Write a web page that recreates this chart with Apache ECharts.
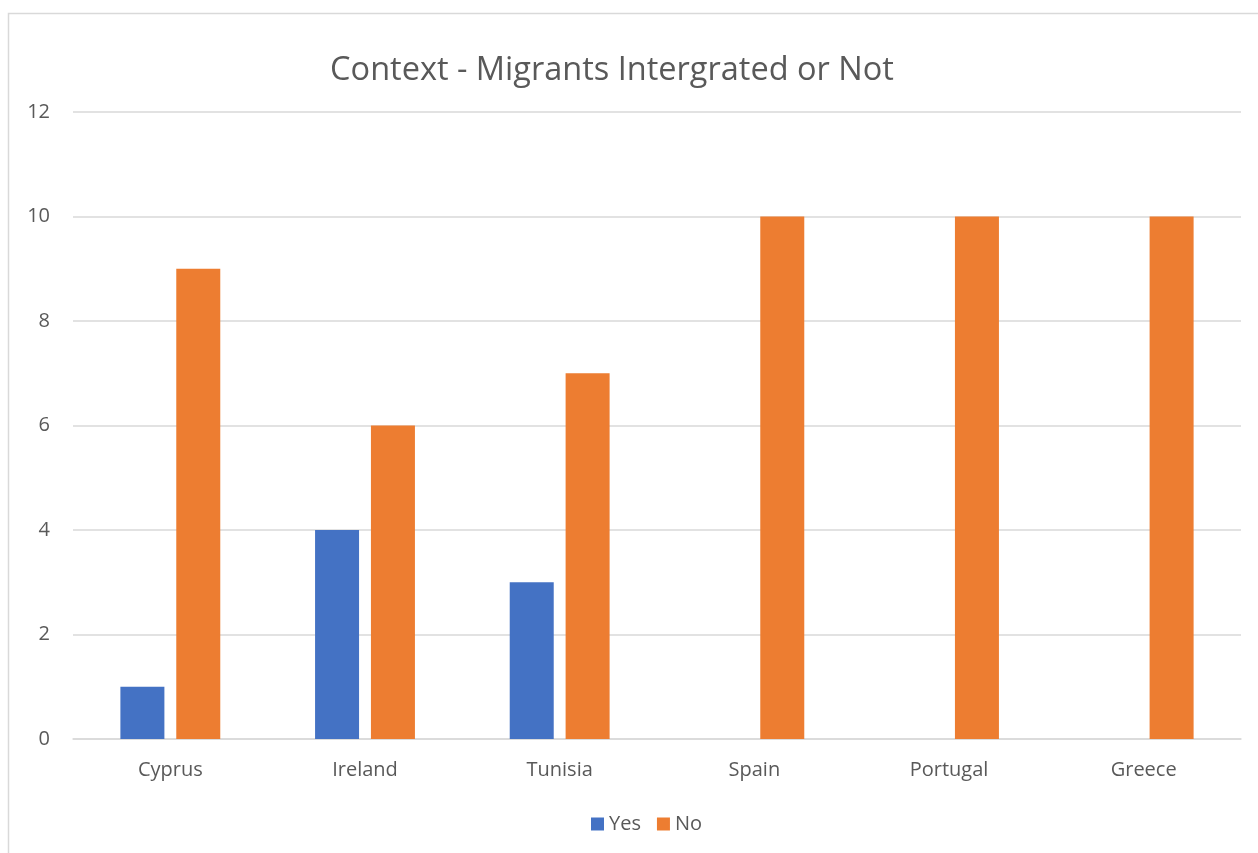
<!DOCTYPE html>
<html>
<head>
<meta charset="utf-8">
<script src="https://cdn.jsdelivr.net/npm/echarts@6/dist/echarts.min.js"></script>
<style>
  html, body { margin: 0; padding: 0; background: #fff; }
  #chart { width: 1258px; height: 853px; }
</style>
</head>
<body>
<div id="chart"></div>
<script>
const countries = ['Cyprus', 'Ireland', 'Tunisia', 'Spain', 'Portugal', 'Greece']
const yesValues = [1, 4, 3, 0, 0, 0]
const noValues = [9, 6, 7, 10, 10, 10]

const textColor = '#595959'
const font = 'Open Sans'

const chart = echarts.init(document.getElementById('chart'))
chart.setOption({
  animation: false,
  textStyle: { fontFamily: font },
  graphic: [
    {
      type: 'rect',
      shape: { x: 8.5, y: 13.5, width: 1400, height: 1000 },
      style: { fill: 'none', stroke: '#d9d9d9', lineWidth: 1.5 },
      silent: true,
    },
  ],
  title: {
    text: 'Context - Migrants Intergrated or Not',
    left: 607,
    textAlign: 'center',
    top: 49,
    textStyle: { color: textColor, fontSize: 32.5, fontWeight: 'normal', fontFamily: font },
  },
  legend: {
    bottom: 14,
    left: 586,
    itemWidth: 13,
    itemHeight: 13,
    itemGap: 16,
    icon: 'rect',
    textStyle: { color: textColor, fontSize: 20, fontFamily: font },
    data: ['Yes', 'No'],
  },
  grid: { left: 73, right: 17, top: 112, bottom: 114 },
  xAxis: {
    type: 'category',
    data: countries,
    axisLine: { lineStyle: { color: '#d9d9d9', width: 1.5 } },
    axisTick: { show: false },
    axisLabel: { color: textColor, fontSize: 20, margin: 21, fontFamily: font },
  },
  yAxis: {
    type: 'value',
    min: 0,
    max: 12,
    interval: 2,
    axisLine: { show: false },
    axisTick: { show: false },
    splitLine: { lineStyle: { color: '#d9d9d9', width: 1.5 } },
    axisLabel: { color: textColor, fontSize: 20, margin: 23, fontFamily: font },
  },
  series: [
    {
      name: 'Yes',
      type: 'bar',
      data: yesValues,
      barWidth: 44,
      barGap: '27%',
      itemStyle: { color: '#4472C4' },
    },
    {
      name: 'No',
      type: 'bar',
      data: noValues,
      barWidth: 44,
      itemStyle: { color: '#ED7D31' },
    },
  ],
})
</script>
</body>
</html>
